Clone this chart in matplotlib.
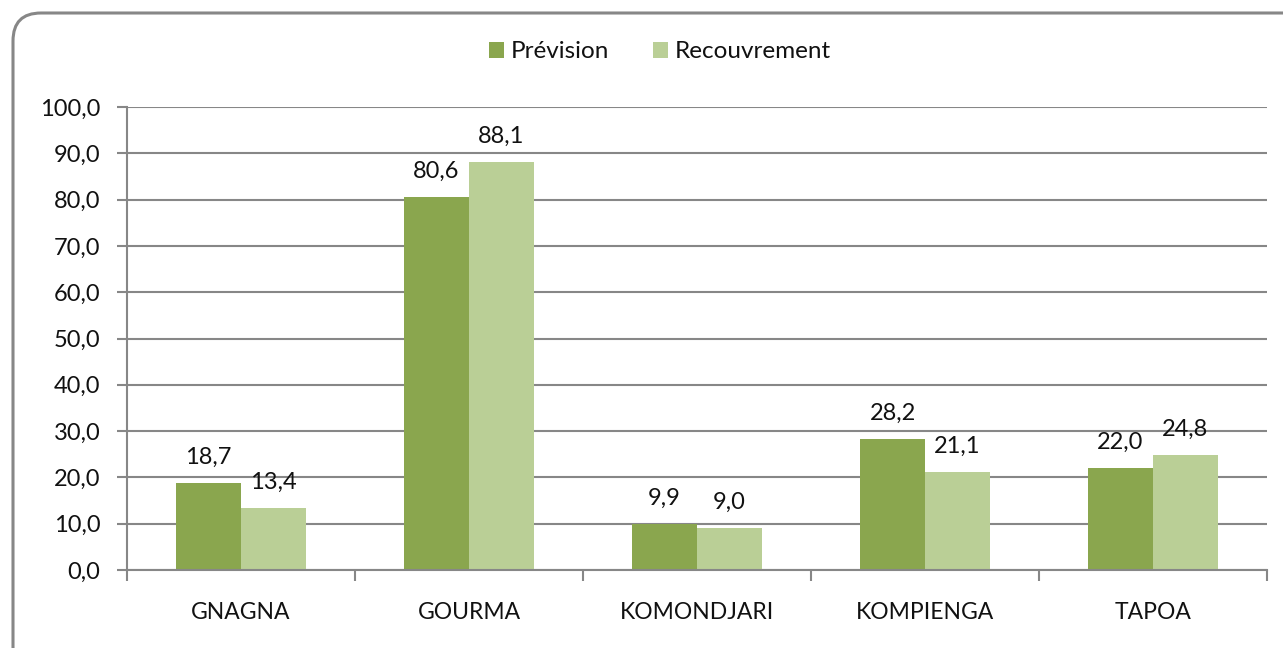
import matplotlib.pyplot as plt
import numpy as np
from matplotlib.patches import FancyBboxPatch

plt.rcParams['font.family'] = ['Lato', 'DejaVu Sans']

provinces = ['GNAGNA', 'GOURMA', 'KOMONDJARI', 'KOMPIENGA', 'TAPOA']
prevision = [18.7, 80.6, 9.9, 28.2, 22.0]
recouvrement = [13.4, 88.1, 9.0, 21.1, 24.8]

c_prev = '#8AA64E'
c_rec = '#BACF96'
gris = '#878787'

fig = plt.figure(figsize=(12.83, 6.48), dpi=100)

# cadre arrondi autour du graphique
cadre = FancyBboxPatch((13, -40), 1320, 675, boxstyle='round,pad=0,rounding_size=28',
                       transform=None, fill=False, edgecolor=gris, linewidth=2.2)
fig.patches.append(cadre)

ax = fig.add_axes([127 / 1283, 1 - 570 / 648, (1267 - 127) / 1283, (570 - 107) / 648])

x = np.arange(len(provinces))
w = 0.285
b1 = ax.bar(x - w / 2, prevision, w, color=c_prev, label='Prévision')
b2 = ax.bar(x + w / 2, recouvrement, w, color=c_rec, label='Recouvrement')

for bars in (b1, b2):
    for b in bars:
        v = b.get_height()
        ax.annotate(f'{v:.1f}'.replace('.', ','), (b.get_x() + b.get_width() / 2, v),
                    xytext=(0, 11), textcoords='offset points', ha='center', va='bottom',
                    fontsize=17, color='#111111')

ax.set_xlim(-0.5, len(provinces) - 0.5)
ax.set_ylim(0, 100)
ax.set_yticks(np.arange(0, 101, 10))
ax.set_yticklabels([f'{v:.1f}'.replace('.', ',') for v in np.arange(0, 101, 10)])
ax.yaxis.grid(True, color=gris, linewidth=1.5)
ax.set_axisbelow(True)

ax.set_xticks(x)
ax.set_xticklabels(provinces)
ax.tick_params(axis='x', length=0, pad=23, labelsize=16.5, labelcolor='#111111')
ax.set_xticks(np.arange(-0.5, len(provinces)), minor=True)
ax.tick_params(axis='x', which='minor', length=8, width=1.5, color=gris)
ax.tick_params(axis='y', length=7, width=1.5, color=gris, labelsize=17, pad=12,
               labelcolor='#111111')

for s in ('top', 'right'):
    ax.spines[s].set_visible(False)
for s in ('left', 'bottom'):
    ax.spines[s].set_color(gris)
    ax.spines[s].set_linewidth(1.5)

fig.legend(handles=[b1, b2], loc='center', bbox_to_anchor=(660 / 1283, 1 - 52 / 648),
           ncol=2, frameon=False, fontsize=17.5, handlelength=0.6, handleheight=0.6,
           handletextpad=0.3, columnspacing=1.8, labelcolor='#111111')

fig.savefig('out.png', dpi=100)
